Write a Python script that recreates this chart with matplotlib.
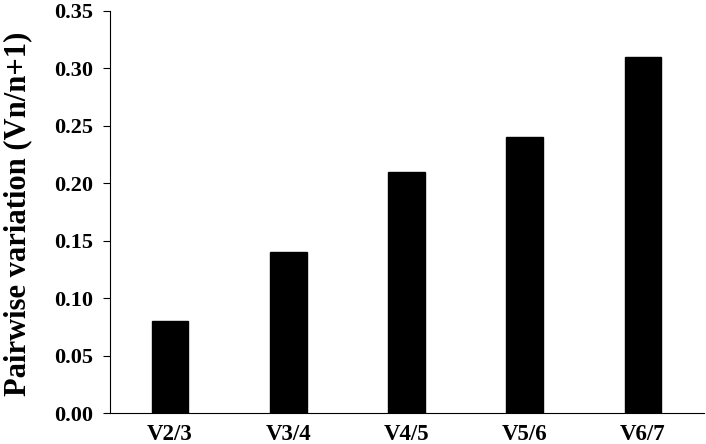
import matplotlib
matplotlib.use("Agg")
import matplotlib.pyplot as plt

categories = ["V2/3", "V3/4", "V4/5", "V5/6", "V6/7"]
values = [0.08, 0.14, 0.21, 0.24, 0.31]
yticks = [0.00, 0.05, 0.10, 0.15, 0.20, 0.25, 0.30, 0.35]

plt.rcParams['font.family'] = ['Liberation Serif', 'DejaVu Serif']
plt.rcParams['font.weight'] = 'bold'

fig = plt.figure(figsize=(7.06, 4.44), dpi=100)
ax = fig.add_axes([110/706, 1 - 413.3/444, (704-110)/706, (413.3-10.7)/444])

x = list(range(len(categories)))
ax.bar(x, values, width=0.31, color='black', edgecolor='black')
ax.set_xlim(-0.507, 4.516)
ax.set_ylim(0, 0.35)
ax.set_yticks(yticks)
ax.set_yticklabels([f"{t:.2f}" for t in yticks], fontsize=16, fontweight='bold')
ax.set_xticks(x)
ax.set_xticklabels(categories, fontsize=16.5, fontweight='bold')
ax.tick_params(axis='x', length=0, pad=8)
ax.tick_params(axis='y', direction='out', length=5.2, width=0.8, pad=7)
for s in ['top', 'right']:
    ax.spines[s].set_visible(False)
for s in ['left', 'bottom']:
    ax.spines[s].set_linewidth(0.8)
ax.set_ylabel("Pairwise variation (Vn/n+1)", fontsize=22, fontweight='bold')
ax.yaxis.set_label_coords(-0.131, 0.496)

fig.savefig("out.png", dpi=100)
